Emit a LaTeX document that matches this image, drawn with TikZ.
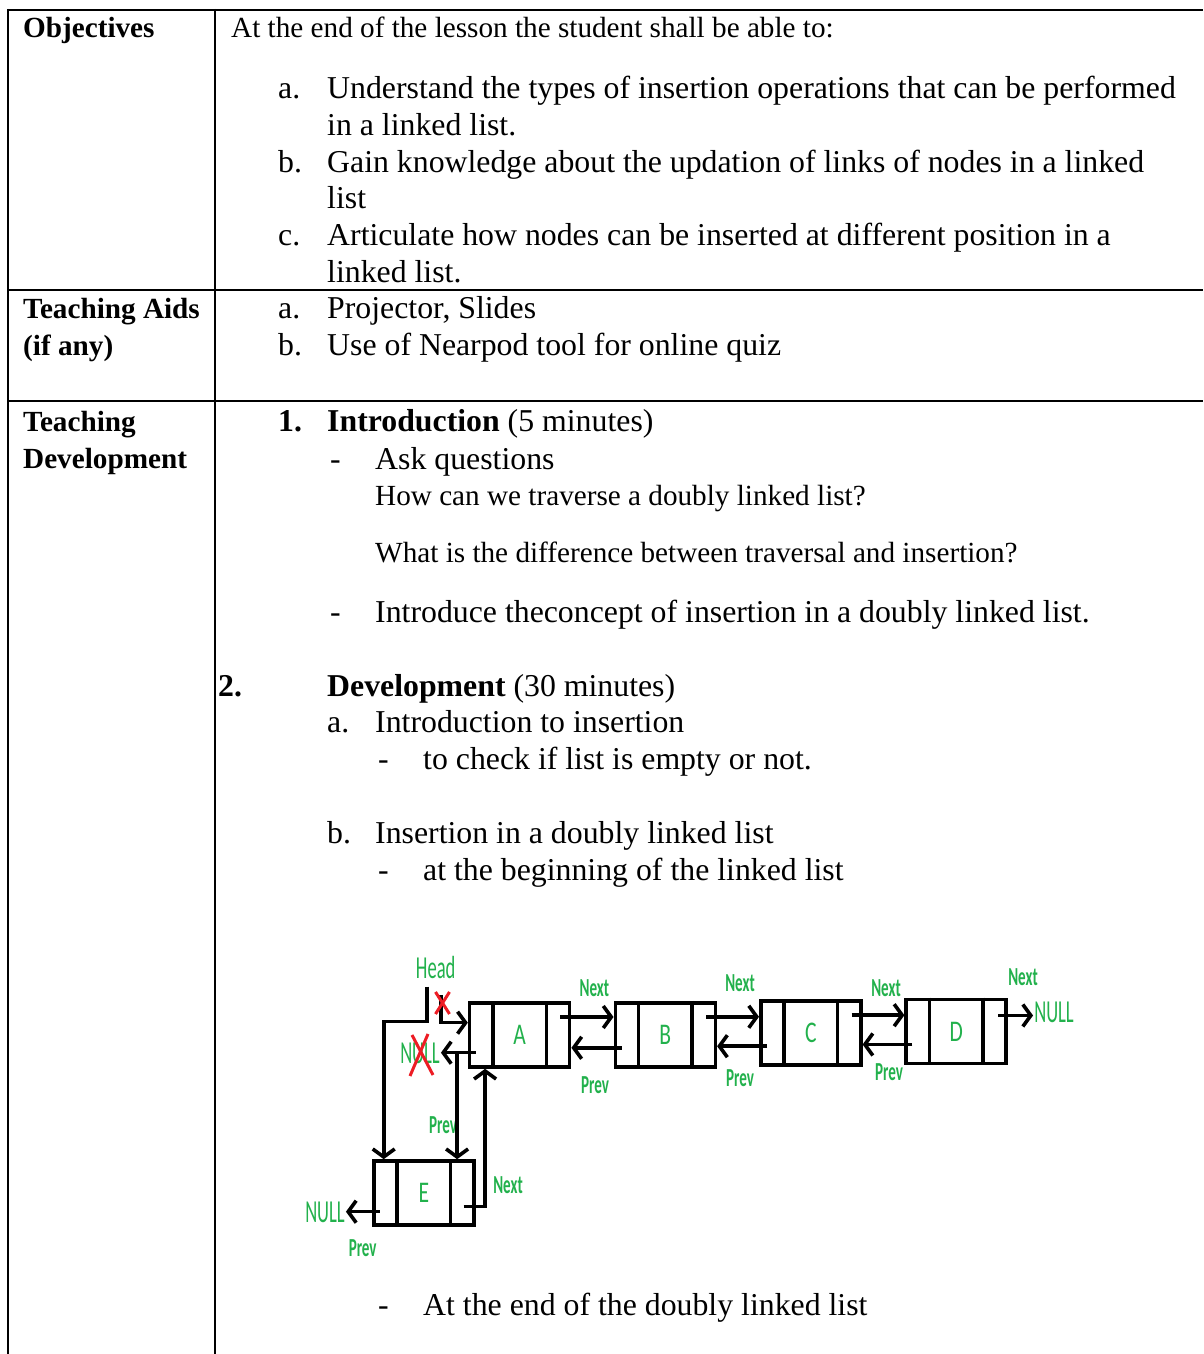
\documentclass[tikz,border=0pt]{standalone}
\usepackage{fontspec}
\usepackage{graphicx}
\setmainfont{Liberation Serif}
\newfontfamily\dgfont{Carlito}
\usetikzlibrary{arrows.meta,calc}
\definecolor{dgreen}{RGB}{34,177,76}
\definecolor{dred}{RGB}{237,28,36}
\newcommand{\smallsz}{\fontsize{29.2}{35}\selectfont}
\newcommand{\bigsz}{\fontsize{31.8}{37}\selectfont}
\newcommand{\cond}[1]{\scalebox{0.58}[1]{#1}}
\newcommand{\condl}[1]{\scalebox{0.72}[1]{#1}}
\begin{document}
\begin{tikzpicture}[x=1pt,y=1pt,
  grid/.style={line width=2pt},
  txt/.style={anchor=base west, inner sep=0pt, font=\bigsz},
  stxt/.style={anchor=base west, inner sep=0pt, font=\smallsz},
  lbl/.style={anchor=base west, inner sep=0pt, font=\smallsz\bfseries},
  lnode/.style={draw, line width=3.6pt, minimum width=100pt, minimum height=64pt, inner sep=0pt, text=dgreen, font=\dgfont\fontsize{30}{30}\selectfont},
  ptr/.style={line width=3.6pt, -{Straight Barb[length=8pt,width=22pt]}},
  gl/.style={text=dgreen, inner sep=0pt, font=\dgfont\bfseries\fontsize{26}{26}\selectfont},
  gn/.style={text=dgreen, inner sep=0pt, font=\dgfont\fontsize{32}{32}\selectfont},
  cross/.style={draw=dred, line width=3pt}
]
\useasboundingbox (0,0) rectangle (1203,1354);
\fill[white] (0,0) rectangle (1203,1354);
% table grid
\draw[grid] (7.5,1344) -- (1203,1344);
\draw[grid] (7.5,1064) -- (1203,1064);
\draw[grid] (7.5,953) -- (1203,953);
\draw[grid] (7.5,1345) -- (7.5,0);
\draw[grid] (214.5,1345) -- (214.5,0);
% row 1
\node[lbl] (lobj) at (23,1316) {Objectives};
\node[stxt] (t0) at (231,1316) {At the end of the lesson the student shall be able to:};
\node[txt] (oa) at (278,1255) {a.};
\node[txt] (oa1) at (327,1255) {Understand the types of insertion operations that can be performed};
\node[txt] (oa2) at (327,1218) {in a linked list.};
\node[txt] (ob) at (278,1181) {b.};
\node[txt] (ob1) at (327,1181) {Gain knowledge about the updation of links of nodes in a linked};
\node[txt] (ob2) at (327,1145) {list};
\node[txt] (oc) at (278,1108) {c.};
\node[txt] (oc1) at (327,1108) {Articulate how nodes can be inserted at different position in a};
\node[txt] (oc2) at (327,1071.5) {linked list.};
% row 2
\node[lbl] (laid1) at (23,1035) {Teaching Aids};
\node[lbl] (laid2) at (23,998) {(if any)};
\node[txt] (aa) at (278,1035) {a.};
\node[txt] (aa1) at (327,1035) {Projector, Slides};
\node[txt] (ab) at (278,998) {b.};
\node[txt] (ab1) at (327,998) {Use of Nearpod tool for online quiz};
% row 3
\node[lbl] (ldev1) at (23,922) {Teaching};
\node[lbl] (ldev2) at (23,885) {Development};
\node[txt, font=\bigsz\bfseries] (i1) at (278,922) {1.};
\node[txt] (i1t) at (327,922) {\textbf{Introduction} (5 minutes)};
\node[txt] (d1) at (330,884.5) {-};
\node[txt] (d1t) at (375,884.5) {Ask questions};
\node[stxt] (q1) at (375,848.5) {How can we traverse a doubly linked list?};
\node[stxt] (q2) at (375,791.5) {What is the difference between traversal and insertion?};
\node[txt] (d2) at (330,731.5) {-};
\node[txt] (d2t) at (375,731.5) {Introduce theconcept of insertion in a doubly linked list.};
\node[txt, font=\bigsz\bfseries] (i2) at (218,657.5) {2.};
\node[txt] (i2t) at (327,657.5) {\textbf{Development} (30 minutes)};
\node[txt] (sa) at (327,621.5) {a.};
\node[txt] (sat) at (375,621.5) {Introduction to insertion};
\node[txt] (d3) at (378,584.5) {-};
\node[txt] (d3t) at (423,584.5) {to check if list is empty or not.};
\node[txt] (sb) at (327,510.5) {b.};
\node[txt] (sbt) at (375,510.5) {Insertion in a doubly linked list};
\node[txt] (d4) at (378,473.5) {-};
\node[txt] (d4t) at (423,473.5) {at the beginning of the linked list};
\node[txt] (d5) at (378,38.5) {-};
\node[txt] (d5t) at (423,38.5) {At the end of the doubly linked list};
% diagram nodes
\node[lnode] (A) at (519.6,319) {\condl{A}};
\node[lnode] (B) at (665.3,319.2) {\condl{B}};
\node[lnode] (C) at (810.8,320.8) {\condl{C}};
\node[lnode] (D) at (956.2,322.5) {\condl{D}};
\node[lnode] (E) at (423.8,161) {\condl{E}};
\foreach \n in {A,B,C,D,E}{
  \draw[line width=3.6pt] ($(\n.north west)+(25,0)$) -- ($(\n.south west)+(25,0)$);
  \draw[line width=3.6pt] ($(\n.north east)+(-25,0)$) -- ($(\n.south east)+(-25,0)$);
}
% labels
\node[gn] (head) at (435.7,386) {\cond{Head}};
\node[gn] (nullR) at (1054,342) {\cond{NULL}};
\node[gn] (nullX) at (420,301) {\cond{NULL}};
\node[gn] (nullL) at (325,142) {\cond{NULL}};
\node[gl] (nAB) at (594.3,366) {\cond{Next}};
\node[gl] (pBA) at (595,269) {\cond{Prev}};
\node[gl] (nBC) at (740,370.7) {\cond{Next}};
\node[gl] (pCB) at (740,276) {\cond{Prev}};
\node[gl] (nCD) at (886,366) {\cond{Next}};
\node[gl] (pDC) at (889,282.3) {\cond{Prev}};
\node[gl] (nDN) at (1023,377.3) {\cond{Next}};
\node[gl] (pAE) at (443,229) {\cond{Prev}};
\node[gl] (nEA) at (508,169) {\cond{Next}};
\node[gl] (pEN) at (362.7,106) {\cond{Prev}};
% next / prev links between list nodes
\foreach \p/\q in {A/B,B/C,C/D}{
  \draw[ptr] ($(\p.east)+(-11,18)$) coordinate (nx\p) -- (nx\p -| \q.west);
  \draw[ptr] ($(\q.west)+(8,-13)$) coordinate (pv\q) -- (pv\q -| \p.east);
}
\draw[ptr] ($(D.east)+(-10,16)$) coordinate (nxD) -- ($(nxD -| nullR.west)+(-1,0)$);
% old head pointer (removed)
\coordinate (oh) at (440.7,359);
\draw[ptr] (oh) |- ($(A.west)+(0,12.3)$);
% new head pointer
\coordinate (h0) at (426.7,367.3);
\draw[ptr] (h0) -- ++(0,-35) -| ($(E.north west)+(11.7,0)$);
% A prev to NULL, and branch to E
\draw[ptr] ($(A.west)+(8,-17.7)$) coordinate (pvA) -- ($(pvA -| nullX.east)+(1,0)$);
\draw[ptr] ($(pvA)+(-18.7,0)$) coordinate (br) -- (br |- E.north);
% E next to A
\draw[ptr] ($(E.east)+(-12,-13.7)$) coordinate (nxE) -| ($(A.south west)+(17.3,0)$);
% E prev to NULL
\draw[ptr] ($(E.west)+(7.7,-18.7)$) coordinate (pvE) -- ($(pvE -| nullL.east)+(1,0)$);
% red crosses
\draw[cross] ($(nullX.center)+(-8,18)$) -- ($(nullX.center)+(13,-22)$);
\draw[cross] ($(nullX.center)+(8,19)$) -- ($(nullX.center)+(-10,-23)$);
\coordinate (xh) at (442.5,351);
\draw[cross] ($(xh)+(-7,11)$) -- ($(xh)+(7,-11)$);
\draw[cross] ($(xh)+(7,11)$) -- ($(xh)+(-7,-11)$);
\end{tikzpicture}
\end{document}
